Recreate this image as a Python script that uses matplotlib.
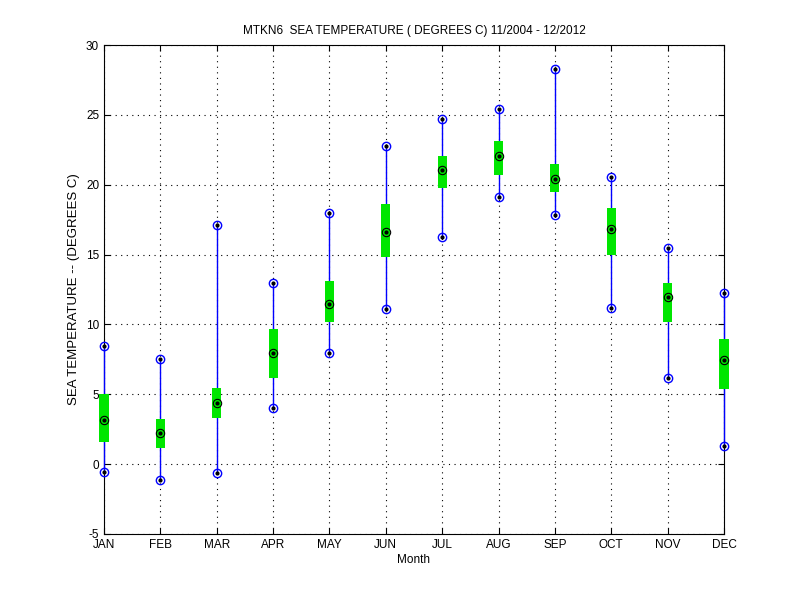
import numpy as np
import matplotlib
matplotlib.use('Agg')
import matplotlib.pyplot as plt

months = ['JAN', 'FEB', 'MAR', 'APR', 'MAY', 'JUN', 'JUL', 'AUG', 'SEP', 'OCT', 'NOV', 'DEC']
t_max = [8.45, 7.5, 17.1, 12.95, 18.0, 22.75, 24.7, 25.4, 28.3, 20.55, 15.5, 12.25]
t_min = [-0.57, -1.1, -0.65, 4.0, 7.95, 11.1, 16.25, 19.1, 17.8, 11.2, 6.2, 1.3]
t_mean = [3.15, 2.2, 4.4, 7.95, 11.45, 16.6, 21.05, 22.05, 20.4, 16.8, 11.95, 7.45]
box_hi = [5.05, 3.2, 5.43, 9.66, 13.1, 18.6, 22.05, 23.1, 21.5, 18.3, 12.95, 8.95]
box_lo = [1.6, 1.17, 3.33, 6.15, 10.2, 14.8, 19.8, 20.7, 19.45, 15.0, 10.2, 5.37]

plt.rcParams['font.family'] = ['Liberation Sans', 'DejaVu Sans']
plt.rcParams['font.size'] = 8.5
plt.rcParams['axes.unicode_minus'] = False

fig = plt.figure(figsize=(8, 6), dpi=100)
ax = fig.add_axes([0.13, 0.11, 0.775, 0.815])

x = np.arange(1, 13)
hi = np.array(box_hi)
lo = np.array(box_lo)

# range lines (above spines so the JAN / DEC ones show)
ax.vlines(x, t_min, t_max, color=(0, 0, 1), lw=1, zorder=2.6, clip_on=False)
# green boxes
ax.bar(x, hi - lo, bottom=lo, width=0.16, color=(0, 0.9, 0), zorder=3, clip_on=False)
# min / max markers
for v in (t_min, t_max):
    ax.plot(x, v, 'o', ms=6, mfc='none', mec=(0, 0, 1), mew=1, zorder=4, clip_on=False)
    ax.plot(x, v, '.', ms=4, color='k', zorder=5, clip_on=False)
# mean markers
ax.plot(x, t_mean, 'o', ms=6, mfc='none', mec='k', mew=0.8, zorder=4, clip_on=False)
ax.plot(x, t_mean, '.', ms=4, color='k', zorder=5, clip_on=False)

ax.set_xlim(1, 12)
ax.set_ylim(-5, 30)
ax.set_xticks(x)
ax.set_xticklabels(months)
ax.set_yticks(np.arange(-5, 31, 5))
ax.tick_params(direction='in', length=4, top=True, right=True)
ax.grid(True, linestyle=(0, (1, 4)), color='k', lw=0.8)
for s in ax.spines.values():
    s.set_linewidth(0.8)

ax.set_title('MTKN6  SEA TEMPERATURE ( DEGREES C) 11/2004 - 12/2012', fontsize=8.5, pad=8)
ax.set_xlabel('Month', fontsize=8.5, labelpad=2)
ax.set_ylabel('SEA TEMPERATURE -- (DEGREES C)', fontsize=9.5)

fig.savefig('out.png', dpi=100)
